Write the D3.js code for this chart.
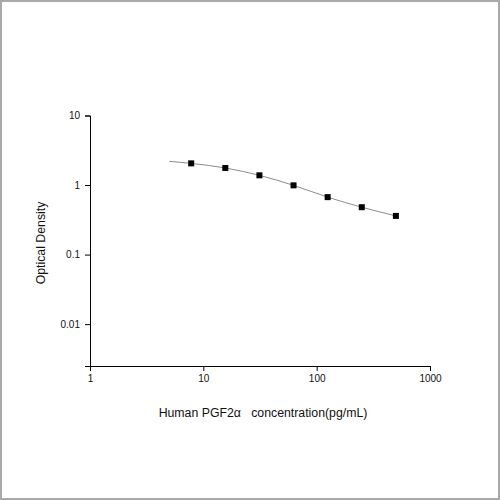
<!DOCTYPE html>
<html>
<head>
<meta charset="utf-8">
<script src="https://cdn.jsdelivr.net/npm/d3@7"></script>
<style>
  html, body { margin: 0; padding: 0; background: #fff; }
  svg { display: block; font-family: "Liberation Sans", Arial, sans-serif; }
</style>
</head>
<body>
<svg id="chart" width="500" height="500"></svg>
<script>
// standard points (concentration pg/mL, OD)
const concentrations = [7.8125, 15.625, 31.25, 62.5, 125, 250, 500];
const odValues = [2.05, 1.76, 1.38, 0.99, 0.67, 0.48, 0.36];
// fitted curve
const curveX = [5, 7.8125, 15.625, 31.25, 62.5, 125, 250, 500];
const curveY = [2.19, 2.05, 1.76, 1.38, 0.99, 0.67, 0.48, 0.36];
const xTickValues = [1, 10, 100, 1000];
const yTickValues = [0.01, 0.1, 1, 10];

const svg = d3.select('#chart');
const width = +svg.attr('width');
const height = +svg.attr('height');

// frame
svg.append('rect')
  .attr('x', 1).attr('y', 1)
  .attr('width', width - 2).attr('height', height - 2)
  .attr('fill', '#fff')
  .style('stroke', '#a9a9a9')
  .style('stroke-width', 2);

const x = d3.scaleLog().domain([1, 1000]).range([90, 430]);
const y = d3.scaleLog().domain([0.0025, 10]).range([366, 115.5]);

function minorTicks(scale) {
  const [a, b] = scale.domain();
  const out = [];
  for (let p = Math.floor(Math.log10(a)); p < Math.ceil(Math.log10(b)); p++) {
    for (let k = 2; k <= 9; k++) {
      const v = k * Math.pow(10, p);
      if (v >= a && v <= b) out.push(v);
    }
  }
  return out;
}

// x axis
const xAxisG = svg.append('g').attr('transform', `translate(0,${y.range()[0]})`);
xAxisG.call(d3.axisBottom(x).tickValues(minorTicks(x)).tickSize(3).tickFormat(''));
xAxisG.call(d3.axisBottom(x).tickValues(xTickValues).tickSize(5).tickFormat(d3.format('')));
xAxisG.selectAll('text')
  .attr('font-size', 10)
  .attr('font-family', '"Liberation Sans", Arial, sans-serif')
  .attr('fill', '#111')
  .attr('y', 9);

// y axis
const yAxisG = svg.append('g').attr('transform', `translate(${x.range()[0]},0)`);
yAxisG.call(d3.axisLeft(y).tickValues(minorTicks(y)).tickSize(3).tickFormat(''));
yAxisG.call(d3.axisLeft(y).tickValues(yTickValues).tickSize(5).tickFormat(d => String(d)));
yAxisG.selectAll('text')
  .attr('font-size', 10)
  .attr('font-family', '"Liberation Sans", Arial, sans-serif')
  .attr('fill', '#111')
  .attr('x', -10);

// fitted curve
const line = d3.line()
  .x((d, i) => x(curveX[i]))
  .y(d => y(d))
  .curve(d3.curveMonotoneX);
svg.append('path')
  .attr('d', line(curveY))
  .attr('fill', 'none')
  .attr('stroke', '#8c8c8c')
  .attr('stroke-width', 1);

// points
svg.append('g')
  .selectAll('rect')
  .data(concentrations)
  .enter()
  .append('rect')
  .attr('x', d => x(d) - 3)
  .attr('y', (d, i) => y(odValues[i]) - 3)
  .attr('width', 6)
  .attr('height', 6)
  .attr('fill', '#000');

// titles
svg.append('text')
  .attr('x', 263)
  .attr('y', 417)
  .attr('text-anchor', 'middle')
  .attr('font-size', 12.3)
  .attr('fill', '#111')
  .style('white-space', 'pre')
  .text('Human PGF2\u03b1   concentration(pg/mL)');

svg.append('text')
  .attr('transform', 'translate(45,243) rotate(-90)')
  .attr('text-anchor', 'middle')
  .attr('font-size', 12.3)
  .attr('fill', '#111')
  .text('Optical Density');
</script>
</body>
</html>
